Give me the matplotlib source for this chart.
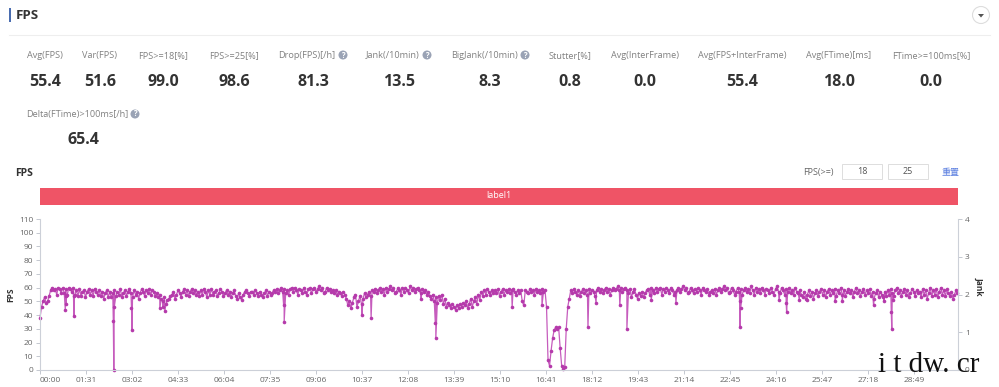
import matplotlib
matplotlib.use("Agg")
import matplotlib.pyplot as plt
import numpy as np
from matplotlib.patches import Circle, Polygon, Rectangle

plt.rcParams['font.family'] = ['Open Sans', 'Noto Sans CJK SC', 'DejaVu Sans']

# fps samples, one every 3 s, one row per minute
fps_step = 3
fps_rows = [
    38, 46, 50, 53, 49, 50, 54, 58, 60, 58, 59, 55, 60, 59, 56, 60, 56, 59, 55, 60,
    59, 57, 60, 55, 58, 54, 59, 54, 57, 58, 53, 57, 59, 55, 58, 54, 59, 57, 55, 58,
    54, 57, 52, 56, 58, 53, 57, 53, 56, 58, 54, 57, 55, 59, 53, 56, 58, 54, 57, 59,
    56, 53, 58, 55, 57, 52, 56, 59, 57, 54, 58, 56, 59, 55, 58, 57, 54, 56, 53, 55,
    52, 50, 53, 48, 51, 52, 54, 55, 57, 52, 55, 58, 56, 53, 57, 59, 55, 58, 54, 57,
    59, 56, 58, 55, 57, 54, 58, 55, 59, 57, 53, 58, 55, 59, 55, 57, 58, 54, 56, 59,
    57, 54, 56, 58, 55, 57, 53, 56, 58, 54, 52, 56, 53, 51, 55, 57, 58, 56, 54, 57,
    57, 55, 58, 56, 54, 57, 55, 53, 56, 58, 54, 57, 55, 56, 58, 57, 59, 56, 58, 60,
    57, 59, 56, 58, 55, 59, 60, 57, 60, 58, 55, 59, 58, 56, 60, 57, 55, 59, 60, 56,
    59, 60, 57, 59, 61, 58, 60, 56, 57, 60, 58, 59, 57, 58, 56, 58, 55, 57, 56, 54,
    57, 55, 52, 47, 50, 45, 49, 53, 55, 46, 50, 54, 48, 52, 56, 53, 55, 57, 54, 58,
    57, 59, 56, 58, 60, 57, 59, 55, 60, 57, 59, 61, 58, 60, 56, 57, 60, 58, 55, 60,
    57, 60, 58, 56, 61, 58, 60, 57, 59, 60, 58, 56, 59, 57, 58, 55, 57, 54, 52, 55,
    50, 53, 49, 54, 51, 55, 48, 52, 46, 49, 47, 45, 48, 46, 44, 47, 45, 48, 46, 49,
    47, 50, 45, 48, 52, 46, 50, 53, 48, 55, 51, 57, 54, 58, 55, 59, 57, 55, 58, 56,
    58, 56, 59, 54, 57, 59, 55, 58, 57, 59, 56, 58, 59, 57, 55, 58, 56, 58, 50, 47,
    58, 57, 56, 59, 57, 58, 55, 59, 57, 58, 56, 59, 57, 58, 46, 7, 3, 14, 23, 29,
    31, 30, 31, 16, 3, 1, 2, 30, 46, 52, 58, 56, 59, 57, 55, 58, 54, 57, 59, 56,
    58, 55, 59, 56, 58, 57, 54, 58, 60, 57, 59, 56, 58, 60, 57, 59, 55, 58, 60, 58,
    59, 61, 58, 60, 57, 59, 60, 58, 56, 59, 53, 57, 59, 55, 52, 56, 54, 57, 53, 56,
    58, 59, 55, 60, 58, 56, 60, 57, 59, 60, 55, 59, 57, 60, 58, 56, 60, 58, 55, 57,
    58, 60, 57, 59, 61, 58, 60, 56, 57, 60, 58, 56, 59, 57, 60, 58, 55, 60, 58, 57,
    59, 55, 57, 58, 56, 59, 55, 58, 60, 57, 59, 61, 58, 60, 56, 57, 60, 58, 55, 57,
    60, 57, 59, 55, 58, 60, 57, 59, 56, 61, 58, 55, 60, 57, 59, 56, 60, 58, 55, 59,
    58, 56, 60, 57, 55, 59, 61, 57, 56, 60, 58, 55, 59, 57, 60, 56, 58, 55, 60, 57,
    56, 58, 55, 53, 57, 52, 55, 58, 54, 57, 52, 56, 58, 54, 57, 59, 55, 58, 53, 57,
    59, 55, 58, 56, 59, 54, 58, 56, 60, 55, 58, 54, 57, 59, 56, 58, 53, 57, 60, 56,
    58, 54, 57, 59, 55, 58, 56, 59, 54, 57, 52, 56, 58, 53, 57, 55, 53, 57, 54, 58,
    55, 59, 56, 54, 58, 60, 56, 58, 54, 57, 59, 55, 58, 53, 56, 59, 57, 54, 58, 56,
    57, 53, 59, 55, 58, 52, 56, 60, 54, 58, 55, 59, 53, 57, 60, 55, 58, 54, 59, 56,
    54, 57, 52, 55, 58, 56,
]
# narrow drops that fall between the samples
dip_times = [50, 51, 52, 67, 68, 145, 146, 147, 181, 182, 237, 243, 247, 482, 483,
             637, 655, 754, 782, 783, 934, 993, 1084, 1100, 1147, 1161, 1209,
             1258, 1384, 1385, 1386, 1462, 1476, 1477, 1502, 1517, 1573, 1587,
             1649, 1670, 1684, 1685, 1688]
dip_values = [44, 48, 54, 39, 54, 36, 0, 46, 45, 29, 45, 46, 43, 47, 35,
              40, 38, 52, 34, 23, 46, 47, 31, 49, 47, 30, 51,
              49, 50, 31, 45, 51, 49, 42, 51, 51, 50, 50,
              47, 50, 42, 30, 51]

fps_ticks = list(range(0, 111, 10))
jank_ticks = [0, 1, 2, 3, 4]
time_labels = ['00:00', '01:31', '03:02', '04:33', '06:04', '07:35', '09:06', '10:37',
               '12:08', '13:39', '15:10', '16:41', '18:12', '19:43', '21:14', '22:45',
               '24:16', '25:47', '27:18', '28:49']
time_step = 91
time_end = 1816

stat_labels = ['Avg(FPS)', 'Var(FPS)', 'FPS>=18[%]', 'FPS>=25[%]', 'Drop(FPS)[/h]', 'Jank(/10min)',
               'BigJank(/10min)', 'Stutter[%]', 'Avg(InterFrame)', 'Avg(FPS+InterFrame)',
               'Avg(FTime)[ms]', 'FTime>=100ms[%]']
stat_values = ['55.4', '51.6', '99.0', '98.6', '81.3', '13.5', '8.3', '0.8', '0.0', '55.4', '18.0', '0.0']
stat_label_x = [45, 100, 163, 234, 307, 393, 484, 570, 645, 742, 839, 931]
stat_value_x = [45, 100, 163, 234, 313, 399, 490, 570, 645, 742, 839, 931]
help_icon_x = [343, 427, 525]

W, H = 999, 387
GREY = '#808080'
DARK = '#333333'
LINE = '#c65cbd'
MARK = '#b53aab'

fig = plt.figure(figsize=(W / 100, H / 100), dpi=100, facecolor='white')

# main chart, placed by pixel edges of the reference
ax = fig.add_axes([40 / W, (H - 370) / H, 918 / W, 151 / H])
fps = np.array(fps_rows, dtype=float)
t = np.arange(len(fps)) * fps_step
all_t = np.concatenate([t, dip_times])
all_v = np.concatenate([fps, dip_values])
order = np.argsort(all_t, kind='stable')
ax.plot(all_t[order], all_v[order], color=LINE, lw=0.9, marker='o', ms=2.6, mew=0,
        mfc=MARK, clip_on=False)

ax.set_xlim(0, time_end)
ax.set_ylim(0, 110)
ax.set_yticks(fps_ticks)
ax.set_xticks(np.arange(len(time_labels)) * time_step)
ax.set_xticklabels(time_labels)
ax.get_xticklabels()[0].set_ha('left')
ax.tick_params(axis='both', length=3, width=0.7, color='#c4c8d0', labelcolor='#666666', labelsize=6, pad=2)
ax.spines['top'].set_visible(False)
ax.spines['right'].set_visible(False)
ax.spines['left'].set_color('#ccd0d8')
ax.spines['bottom'].set_color('#ccd0d8')

ax2 = ax.twinx()
ax2.set_ylim(0, 4)
ax2.set_yticks(jank_ticks)
ax2.tick_params(axis='y', length=3, width=0.7, color='#c4c8d0', labelcolor='#666666', labelsize=6, pad=2)
for name in ['top', 'left', 'bottom']:
    ax2.spines[name].set_visible(False)
ax2.spines['right'].set_color('#ccd0d8')

# page furniture in pixel coordinates
ui = fig.add_axes([0, 0, 1, 1], facecolor='none')
ui.set_xlim(0, W)
ui.set_ylim(H, 0)
ui.axis('off')

ui.text(11, 295, 'FPS', fontsize=6, fontweight='bold', color=DARK, rotation=90, ha='center', va='center')
ui.text(979, 286, 'Jank', fontsize=6, fontweight='bold', color=DARK, rotation=270, ha='center', va='center')

ui.add_patch(Rectangle((9, 8), 2, 14, color='#4a6db0', lw=0))
ui.text(16, 19, 'FPS', fontsize=9.5, fontweight='bold', color=DARK, va='baseline')
ui.plot([9, 990], [35, 35], color='#eeeeee', lw=0.8)
ui.add_patch(Circle((981, 15), 8.5, fc='white', ec='#dddddd', lw=0.8))
ui.add_patch(Polygon([[978, 14], [984, 14], [981, 17.5]], color='#555555', lw=0))

for x, label in zip(stat_label_x, stat_labels):
    ui.text(x, 58, label, fontsize=6.6, color=GREY, ha='center', va='baseline')
for x, value in zip(stat_value_x, stat_values):
    ui.text(x, 86, value, fontsize=11.5, fontweight='bold', color=DARK, ha='center', va='baseline')

ui.text(77, 117, 'Delta(FTime)>100ms[/h]', fontsize=6.6, color=GREY, ha='center', va='baseline')
ui.text(83, 144, '65.4', fontsize=11.5, fontweight='bold', color=DARK, ha='center', va='baseline')
for x, y in [(hx, 55) for hx in help_icon_x] + [(135, 114)]:
    ui.add_patch(Circle((x, y), 4.5, color='#9aa3b5', lw=0))
    ui.text(x, y, '?', fontsize=5.5, color='white', fontweight='bold', ha='center', va='center')

ui.text(15, 176, 'FPS', fontsize=7.5, fontweight='bold', color=DARK, va='baseline')
ui.add_patch(Rectangle((40, 188), 918, 17, color='#ef5466', lw=0))
ui.text(499, 196, 'label1', fontsize=6.5, color='white', ha='center', va='center')

ui.text(818, 172, 'FPS(>=)', fontsize=6.5, color='#666666', ha='center', va='center')
for x0, text in [(842, '18'), (888, '25')]:
    ui.add_patch(Rectangle((x0, 164), 40, 15, fc='white', ec='#dddddd', lw=0.7))
    ui.text(x0 + 20, 172, text, fontsize=6.5, color='#555555', ha='center', va='center')
ui.text(950, 172, '重置', fontsize=6.5, color='#5b7fe0', ha='center', va='center')

# site watermark
ui.text(878, 372, 'i t dw. cr', fontsize=21, family='Liberation Serif', color='#111111', va='baseline')

fig.savefig('out.png', dpi=100, facecolor='white')
